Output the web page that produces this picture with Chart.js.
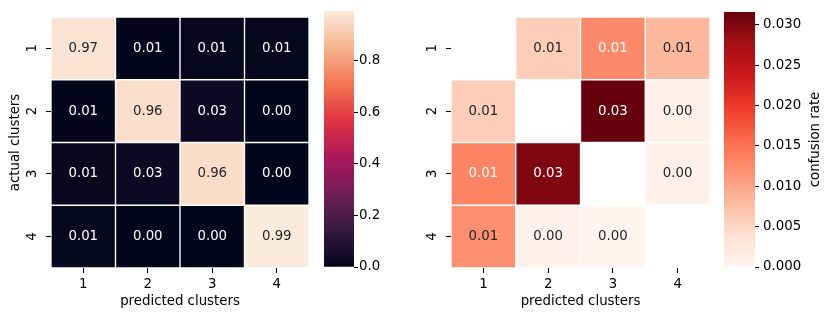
<!DOCTYPE html>
<html>
<head>
<meta charset="utf-8">
<script src="https://cdn.jsdelivr.net/npm/chart.js@4.4.1/dist/chart.umd.min.js"></script>
<style>
  html, body { margin: 0; padding: 0; background: #fff; }
  #wrap { position: relative; width: 830px; height: 319px; }
  #wrap canvas { position: absolute; top: 0; }
</style>
</head>
<body>
<div id="wrap">
  <canvas id="accChart" width="320" height="319" style="left:0"></canvas>
  <canvas id="accBar" width="100" height="319" style="left:320px"></canvas>
  <canvas id="confChart" width="320" height="319" style="left:400px"></canvas>
  <canvas id="confBar" width="110" height="319" style="left:720px"></canvas>
</div>
<script>
// cluster labels
const predicted = ['1', '2', '3', '4'];
const actual = ['1', '2', '3', '4'];

// left: share of each actual cluster per predicted cluster
const accuracy = [
    [0.973, 0.006, 0.0126, 0.0082],
    [0.006, 0.962, 0.0316, 0.0008],
    [0.0133, 0.0301, 0.956, 0.0008],
    [0.0120, 0.0005, 0.0, 0.993]
];

// right: off-diagonal confusion rate (diagonal masked)
const confusion = [
    [null, 0.0060, 0.0126, 0.0082],
    [0.0060, null, 0.0316, 0.0008],
    [0.0133, 0.0301, null, 0.0008],
    [0.0120, 0.0005, 0.0, null]
];

// colorbar ticks
const accTicks = [0, 0.2, 0.4, 0.6, 0.8];
const confTicks = [0, 0.005, 0.010, 0.015, 0.020, 0.025, 0.030];

const font = { family: 'DejaVu Sans', size: 13.33 };
const fontStr = '13.33px "DejaVu Sans"';

// colormaps
function makeCmap(hexes) {
    const rgb = hexes.map(h => [1, 3, 5].map(i => parseInt(h.slice(i, i + 2), 16)));
    const n = rgb.length - 1;
    return t => {
        t = Math.min(1, Math.max(0, t));
        const k = Math.min(n - 1, Math.floor(t * n));
        const f = t * n - k;
        return rgb[k].map((a, i) => Math.round(a + (rgb[k + 1][i] - a) * f));
    };
}
const rocket = makeCmap(['#03051a', '#35193e', '#701f57', '#ad1759', '#e13342', '#f37651', '#f6b48f', '#faebdd']);
const reds = makeCmap(['#fff5f0', '#fee0d2', '#fcbba1', '#fc9272', '#fb6a4a', '#ef3b2c', '#cb181d', '#a50f15', '#67000d']);
const css = c => `rgb(${c[0]},${c[1]},${c[2]})`;

// same rule as seaborn for annotation colour
function textColor(c) {
    const lin = c.map(v => {
        v /= 255;
        return v <= 0.03928 ? v / 12.92 : Math.pow((v + 0.055) / 1.055, 2.4);
    });
    const lum = 0.2126 * lin[0] + 0.7152 * lin[1] + 0.0722 * lin[2];
    return lum > 0.408 ? '#262626' : '#ffffff';
}

function range(matrix) {
    const vals = matrix.flat().filter(v => v !== null);
    return [Math.min(...vals), Math.max(...vals)];
}

function heatmap(canvasId, matrix, cmap, yTitle) {
    const [vmin, vmax] = range(matrix);
    const colorOf = v => cmap((v - vmin) / (vmax - vmin));

    const datasets = matrix.map((row, i) => ({
        label: actual[i],
        data: row.map(v => v === null ? null : [i + 0.5, i + 1.5]),
        backgroundColor: row.map(v => v === null ? 'rgba(0,0,0,0)' : css(colorOf(v))),
        borderColor: '#ffffff',
        borderWidth: 1,
        borderSkipped: false,
        grouped: false,
        barPercentage: 1,
        categoryPercentage: 1
    }));

    const annotate = {
        id: 'annotate',
        afterDatasetsDraw(chart) {
            const { ctx } = chart;
            ctx.save();
            ctx.font = fontStr;
            ctx.textAlign = 'center';
            ctx.textBaseline = 'middle';
            matrix.forEach((row, i) => {
                const meta = chart.getDatasetMeta(i);
                row.forEach((v, j) => {
                    if (v === null) return;
                    const bar = meta.data[j];
                    ctx.fillStyle = textColor(colorOf(v));
                    ctx.fillText(v.toFixed(2), bar.x, (bar.y + bar.base) / 2);
                });
            });
            ctx.restore();
        }
    };

    return new Chart(document.getElementById(canvasId), {
        type: 'bar',
        data: { labels: predicted, datasets },
        options: {
            responsive: false,
            animation: false,
            events: [],
            layout: { padding: { top: 10, right: canvasId === 'accChart' ? 11 : 10 } },
            plugins: { legend: { display: false }, tooltip: { enabled: false } },
            scales: {
                x: {
                    offset: true,
                    afterFit: s => { s.height = 51; },
                    ticks: { color: '#000', font, padding: 4, maxRotation: 0 },
                    grid: { offset: false, drawOnChartArea: false, tickLength: 5, tickColor: '#000', tickWidth: 1.1 },
                    border: { display: false },
                    title: { display: true, text: 'predicted clusters', color: '#000', font, padding: { top: 0, bottom: 9.5 } }
                },
                y: {
                    type: 'linear',
                    reverse: true,
                    min: 0.5,
                    max: 4.5,
                    afterBuildTicks: s => { s.ticks = actual.map((_, i) => ({ value: i + 1 })); },
                    afterFit: s => { s.width = 51; },
                    ticks: {
                        callback: v => actual[Math.round(v) - 1],
                        minRotation: 90,
                        maxRotation: 90,
                        crossAlign: 'center',
                        padding: 9,
                        color: '#000',
                        font
                    },
                    grid: { drawOnChartArea: false, tickLength: 5, tickColor: '#000', tickWidth: 1.1 },
                    border: { display: false },
                    title: { display: !!yTitle, text: yTitle || '', color: '#000', font, padding: { top: 8, bottom: 0 } }
                }
            }
        },
        plugins: [annotate]
    });
}

function colorbar(canvasId, matrix, cmap, ticks, digits, tickPad, title) {
    const [vmin, vmax] = range(matrix);
    const canvas = document.getElementById(canvasId);

    const gradient = chart => {
        const area = chart.chartArea;
        if (!area) return '#888';
        const g = chart.ctx.createLinearGradient(0, area.bottom, 0, area.top);
        for (let k = 0; k <= 64; k++) g.addColorStop(k / 64, css(cmap(k / 64)));
        return g;
    };

    const cbarTitle = {
        id: 'cbarTitle',
        afterDraw(chart) {
            if (!title) return;
            const { ctx, chartArea } = chart;
            ctx.save();
            ctx.translate(chart.scales.y.right - 11, (chartArea.top + chartArea.bottom) / 2);
            ctx.rotate(-Math.PI / 2);
            ctx.font = fontStr;
            ctx.fillStyle = '#000';
            ctx.textAlign = 'center';
            ctx.textBaseline = 'alphabetic';
            ctx.fillText(title, 0, 0);
            ctx.restore();
        }
    };

    return new Chart(canvas, {
        type: 'bar',
        data: {
            labels: [''],
            datasets: [{
                data: [[vmin, vmax]],
                backgroundColor: ctx => gradient(ctx.chart),
                borderWidth: 0,
                barPercentage: 1,
                categoryPercentage: 1
            }]
        },
        options: {
            responsive: false,
            animation: false,
            events: [],
            layout: { padding: { left: 4, top: 11, bottom: 52 } },
            plugins: { legend: { display: false }, tooltip: { enabled: false } },
            scales: {
                x: { display: false },
                y: {
                    position: 'right',
                    min: vmin,
                    max: vmax,
                    afterBuildTicks: s => { s.ticks = ticks.map(v => ({ value: v })); },
                    afterFit: s => { s.width = canvas.width - 35 + (canvasId === 'accBar' ? 1 : 0); },
                    ticks: { callback: v => v.toFixed(digits), padding: tickPad, color: '#000', font },
                    grid: { drawOnChartArea: false, tickLength: 4, tickColor: '#000', tickWidth: 1.1 },
                    border: { display: false }
                }
            }
        },
        plugins: [cbarTitle]
    });
}

heatmap('accChart', accuracy, rocket, 'actual clusters');
colorbar('accBar', accuracy, rocket, accTicks, 1, 1, null);
heatmap('confChart', confusion, reds, null);
colorbar('confBar', confusion, reds, confTicks, 3, 4, 'confusion rate');
</script>
</body>
</html>
